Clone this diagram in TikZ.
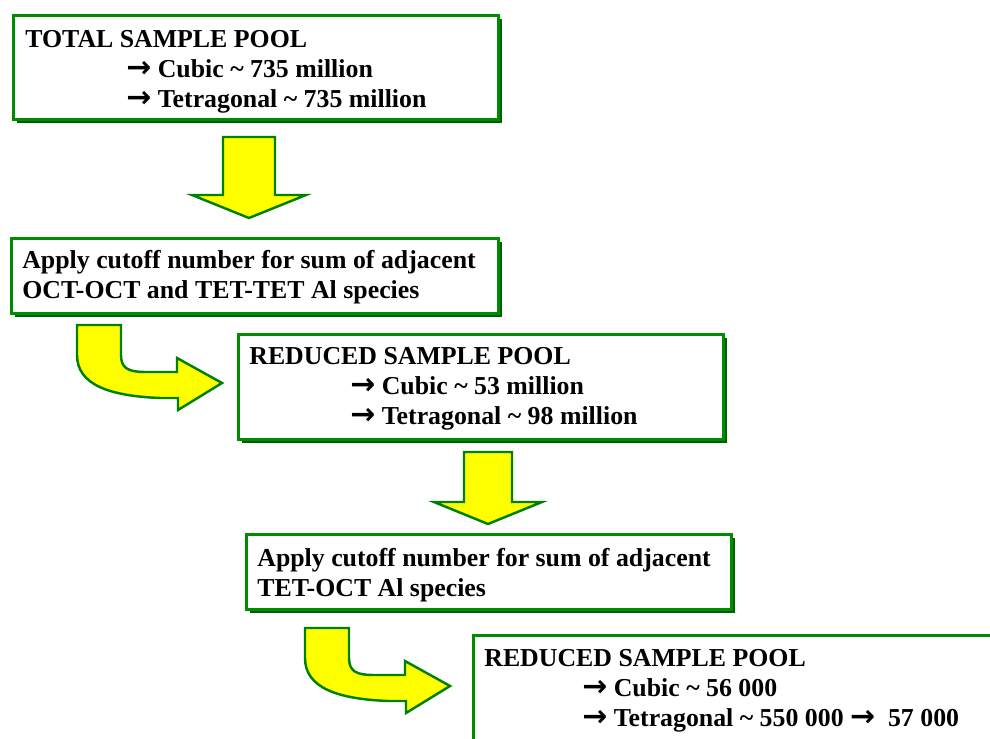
\documentclass[tikz,border=0pt]{standalone}
\usepackage{fontspec}
\setmainfont{Liberation Serif}
\newfontfamily\arrowfont{DejaVu Sans}
\newcommand{\goesto}{{\arrowfont\fontsize{17}{17.1}\selectfont →}}
\usepackage{tikz}
\usetikzlibrary{shadows}
\definecolor{poolgreen}{RGB}{0,140,0}
\definecolor{poolshadow}{RGB}{0,95,0}
\definecolor{arrowgreen}{RGB}{0,128,0}
\definecolor{arrowyellow}{RGB}{255,255,0}
\begin{document}
\begin{tikzpicture}[x=0.02cm, y=-0.02cm,
			pool/.style={draw=poolgreen, line width=1.8pt, fill=white, anchor=north west, inner sep=0pt,
				drop shadow={shadow xshift=2pt, shadow yshift=-2pt, fill=poolshadow, opacity=1}},
			txt/.style={anchor=north west, inner sep=0pt, align=left, font=\fontsize{14.7}{17.1}\selectfont\bfseries},
			blockarrow/.style={draw=arrowgreen, line width=1.4pt, fill=arrowyellow, line join=miter}]
			\clip (0,0) rectangle (990,739);
			\node[pool, minimum width=9.7cm, minimum height=2.08cm] (total) at (12,14) {};
			\node[txt] (totaltxt) at (25,30) {TOTAL SAMPLE POOL\\
				\hspace*{2.02cm}\goesto\ Cubic \textasciitilde\ 735 million\\
				\hspace*{2.02cm}\goesto\ Tetragonal \textasciitilde\ 735 million};
			\node[pool, minimum width=9.74cm, minimum height=1.5cm] (cut1) at (10,237) {};
			\node[txt] (cut1txt) at (22,250) {Apply cutoff number for sum of adjacent\\
				OCT-OCT and TET-TET Al species};
			\node[pool, minimum width=9.7cm, minimum height=2.1cm] (red1) at (237,333) {};
			\node[txt] (red1txt) at (249,347) {REDUCED SAMPLE POOL\\
				\hspace*{2.02cm}\goesto\ Cubic \textasciitilde\ 53 million\\
				\hspace*{2.02cm}\goesto\ Tetragonal \textasciitilde\ 98 million};
			\node[pool, minimum width=9.7cm, minimum height=1.5cm] (cut2) at (245,533) {};
			\node[txt] (cut2txt) at (257,548) {Apply cutoff number for sum of adjacent\\
				TET-OCT Al species};
			\node[pool, minimum width=10.6cm, minimum height=3.4cm] (red2) at (472,634) {};
			\node[txt] (red2txt) at (484,649) {REDUCED SAMPLE POOL\\
				\hspace*{1.96cm}\goesto\ Cubic \textasciitilde\ 56 000\\
				\hspace*{1.96cm}\goesto\ Tetragonal \textasciitilde\ 550 000 \goesto\ \ 57 000};
			\draw[blockarrow] (223,137) -- (275,137) -- (275,195) -- (306,195) -- (249,218)
				-- (192,195) -- (223,195) -- cycle;
			\draw[blockarrow] (464,452) -- (512,452) -- (512,502) -- (542,502) -- (488,524)
				-- (434,502) -- (464,502) -- cycle;
			\foreach \dx/\dy in {0/0, 228/303}
				\draw[blockarrow, shift={(\dx,\dy)}] (77,325) -- (121,325) -- (121,355)
					.. controls (121,368) and (128,372) .. (145,372) -- (177,372) -- (177,358)
					-- (222,383) -- (178,410) -- (178,398) -- (160,398)
					.. controls (110,396) and (77,385) .. (77,355) -- cycle;
		\end{tikzpicture}
\end{document}
